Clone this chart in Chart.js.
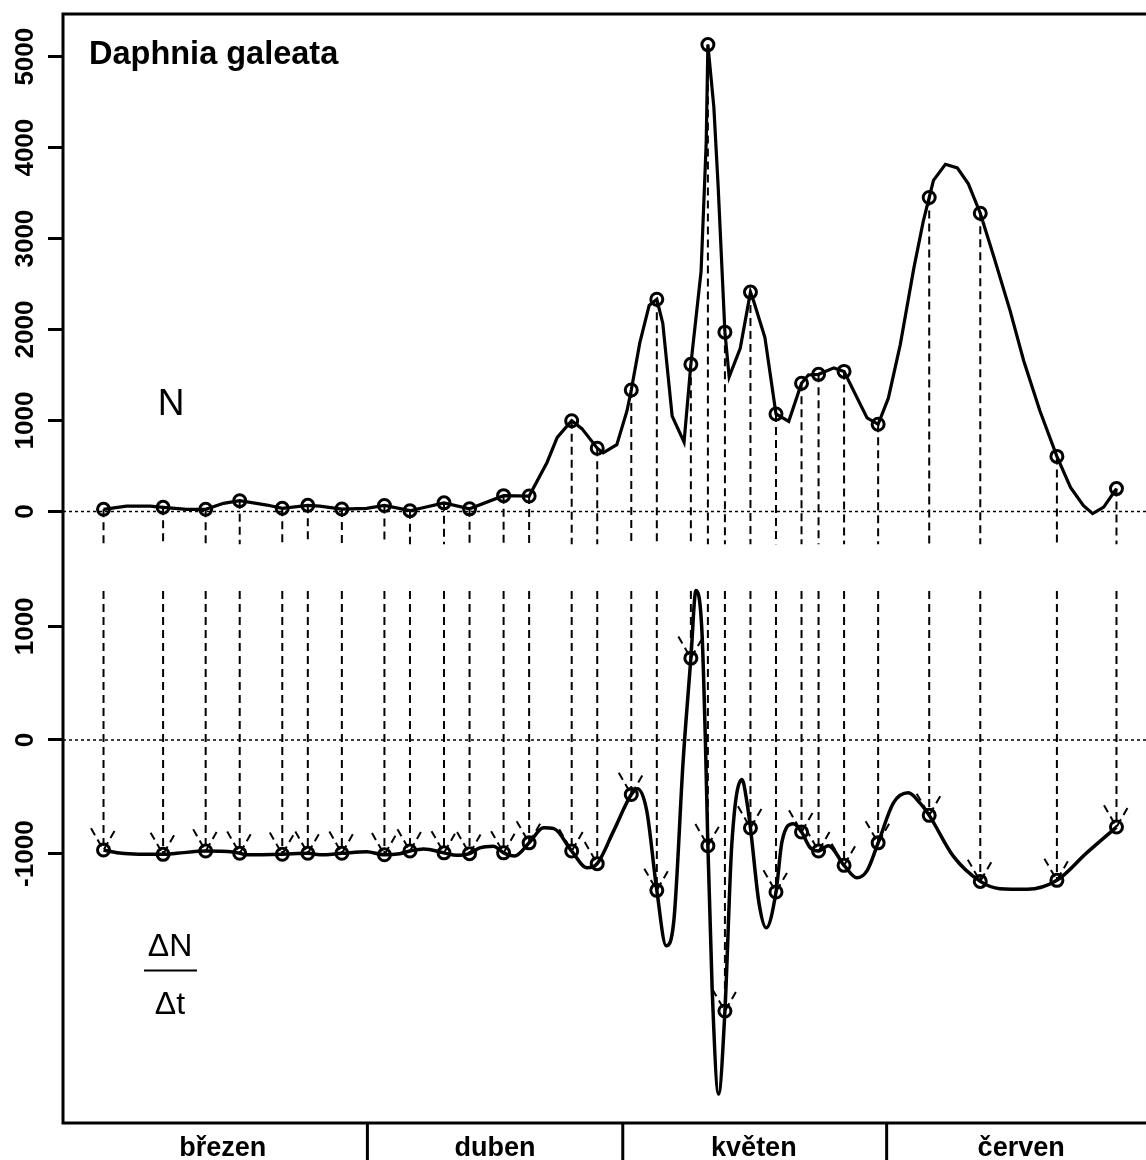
<!DOCTYPE html>
<html>
<head>
<meta charset="utf-8">
<script src="https://cdn.jsdelivr.net/npm/chart.js@4.4.1/dist/chart.umd.min.js"></script>
<style>
  html, body { margin: 0; padding: 0; background: #fff; overflow: hidden; }
  #wrap { width: 1166px; height: 1160px; }
</style>
</head>
<body>
<div id="wrap"><canvas id="c" width="1166" height="1160"></canvas></div>
<script>
// Sampling days, counted from 1 March (day 0)
const sampleDays = [0, 7, 12, 16, 21, 24, 28, 33, 36, 40, 43, 47, 50, 55, 58,
                    62, 65, 69, 71, 73, 76, 79, 82, 84, 87, 91, 97, 103, 112, 119];

// Abundance N at each sampling day
const abundance = [24, 46, 24, 119, 35, 68, 27, 66, 9, 95, 29, 174, 170, 998, 696,
                   1336, 2333, 1618, 5133, 1972, 2412, 1072, 1410, 1508, 1540, 959, 3452, 3279, 606, 252];

// Rate of change ΔN/Δt at each sampling day
const growthRate = [-968, -1006, -977, -997, -1005, -997, -997, -1010, -977, -993, -1000, -993, -905, -977, -1088,
                    -480, -1323, 720, -930, -2385, -774, -1337, -810, -977, -1103, -905, -663, -1244, -1235, -766];

// Interpolated abundance curve (straight segments)
const abundanceCurveDays = [0, 2.7, 5.5, 7, 9.8, 12, 14.1, 16, 19.2, 21, 24, 25.4, 28, 30.9, 33, 36, 40, 43, 47, 50,
  52.1, 53.3, 55, 56.2, 58, 58.7, 60.3, 61.5, 62, 63, 64.1, 65, 65.7, 66.8, 68.2, 69, 70.2, 70.8, 71, 71.7, 72.2,
  73, 73.5, 74.8, 76, 76.4, 77.7, 79, 80.5, 82, 82.8, 84, 85.8, 87, 89.7, 91, 92.2, 93.6, 95.2, 96.3, 97, 97.5,
  98.9, 100.3, 101.6, 103, 104.6, 106.5, 108.1, 110, 112, 113.6, 115.1, 116.2, 117.5, 119];
const abundanceCurve = [24, 60, 60, 46, 24, 24, 90, 119, 71, 35, 68, 60, 27, 35, 66, 9, 95, 29, 174, 170,
  539, 814, 998, 911, 696, 644, 735, 1108, 1336, 1854, 2266, 2333, 2070, 1049, 763, 1618, 2640, 4052, 5133, 4446, 3582,
  1972, 1481, 1795, 2412, 2305, 1913, 1072, 991, 1410, 1501, 1508, 1579, 1540, 1029, 959, 1246, 1835, 2678, 3189, 3452, 3640,
  3817, 3778, 3602, 3279, 2797, 2208, 1658, 1108, 606, 264, 67, -23, 48, 252];

// Smoothed rate curve
const rateCurveDays = [0, 1.6, 3.5, 7, 8.6, 12, 15.2, 16, 16.8, 21, 24, 25.4, 28, 30.9, 33, 34.8, 36, 37.6, 40, 41.5,
  43, 44.2, 45.8, 47, 48.3, 50, 51.7, 52.9, 55, 56.8, 58, 59.9, 62, 62.7, 63.8, 65, 66.1, 67, 68.1, 69, 69.6, 70.3,
  70.7, 71, 71.5, 72.25, 73, 73.8, 75, 75.6, 76, 77, 77.85, 79, 79.7, 81.05, 82, 83, 84, 85.15, 87, 88.5, 89.7, 91,
  92.8, 94.55, 95.9, 97, 99.85, 103, 105.3, 108.5, 112, 115.5, 119];
const rateCurve = [-968, -992, -1003, -1006, -997, -977, -985, -997, -1010, -1005, -997, -1010, -997, -983, -1010, -1000, -977, -959, -993, -1015,
  -1000, -950, -935, -993, -1020, -905, -773, -780, -977, -1125, -1088, -804, -480, -428, -616, -1323, -1810, -1590, -176, 720, 1316, 956,
  12, -930, -2187, -3115, -2385, -930, -348, -553, -774, -1433, -1653, -1337, -897, -736, -810, -946, -977, -930, -1103, -1213, -1150, -905,
  -553, -465, -553, -663, -1024, -1244, -1308, -1314, -1235, -993, -766];

// Axis ticks
const abundanceTicks = [0, 1000, 2000, 3000, 4000, 5000];
const rateTicks = [-1000, 0, 1000];

// Months along the time axis
const monthNames = ['březen', 'duben', 'květen', 'červen'];
const monthStarts = [31, 61, 92];
const monthLabelDays = [14.0, 46.0, 76.4, 107.8];

// Axis ranges
const dayRange = [-4.76, 123.76];
const abundanceRange = [-632.1, 5469.4];
const rateRange = [-3370, 1504.6];

// Ends of the dashed connectors
const dropEnd = -360;    // lower end of drop lines, N units
const arrowTop = 1310;   // upper end of arrows, ΔN/Δt units

const FONT = '"Liberation Sans", Arial, Helvetica, sans-serif';

const xy = (xs, ys) => xs.map((x, i) => ({ x, y: ys[i] }));

const dropLines = [];
sampleDays.forEach((d, i) => {
  dropLines.push({ x: d, y: abundance[i] }, { x: d, y: dropEnd }, { x: d, y: null });
});
const arrowShafts = [];
sampleDays.forEach((d, i) => {
  arrowShafts.push({ x: d, y: arrowTop }, { x: d, y: growthRate[i] }, { x: d, y: null });
});

const lineBase = { pointRadius: 0, borderColor: '#000', fill: false, spanGaps: false };
const markerBase = { showLine: false, pointRadius: 6, pointBorderWidth: 3,
  pointBorderColor: '#000', pointBackgroundColor: 'rgba(0,0,0,0)', order: 1 };

const decor = {
  id: 'decor',
  afterDatasetsDraw(chart) {
    // arrow heads on the ΔN/Δt connectors
    const ctx = chart.ctx, xs = chart.scales.x, ys = chart.scales.yD;
    ctx.save();
    ctx.strokeStyle = '#000';
    ctx.lineWidth = 2;
    ctx.setLineDash([8, 5]);
    sampleDays.forEach((d, i) => {
      const px = xs.getPixelForValue(d), py = ys.getPixelForValue(growthRate[i]);
      ctx.beginPath();
      ctx.moveTo(px - 12.5, py - 21.7);
      ctx.lineTo(px, py);
      ctx.lineTo(px + 12.5, py - 21.7);
      ctx.stroke();
    });
    ctx.restore();
  },
  afterDraw(chart) {
    const ctx = chart.ctx, a = chart.chartArea, xs = chart.scales.x;
    ctx.save();
    ctx.strokeStyle = '#000';
    ctx.fillStyle = '#000';
    ctx.setLineDash([]);
    // plot frame
    ctx.lineWidth = 3;
    ctx.strokeRect(a.left, a.top, a.right - a.left, a.bottom - a.top);
    // month separators
    monthStarts.forEach(d => {
      const px = xs.getPixelForValue(d);
      ctx.beginPath();
      ctx.moveTo(px, a.bottom);
      ctx.lineTo(px, chart.height);
      ctx.stroke();
    });
    // month names
    ctx.font = 'bold 27px ' + FONT;
    ctx.textAlign = 'center';
    ctx.textBaseline = 'alphabetic';
    monthNames.forEach((m, i) => ctx.fillText(m, xs.getPixelForValue(monthLabelDays[i]), 1156));
    // species name
    ctx.textAlign = 'left';
    ctx.font = 'bold 32.5px ' + FONT;
    ctx.fillText('Daphnia galeata', 89, 64);
    // panel captions
    ctx.textAlign = 'center';
    ctx.font = '37px ' + FONT;
    ctx.fillText('N', 171, 415);
    ctx.font = '32px ' + FONT;
    ctx.fillText('ΔN', 170, 956);
    ctx.fillText('Δt', 170, 1014);
    ctx.lineWidth = 2;
    ctx.beginPath();
    ctx.moveTo(144, 970.5);
    ctx.lineTo(197, 970.5);
    ctx.stroke();
    ctx.restore();
  }
};

const tickFont = { family: FONT, size: 26, weight: 'bold' };
const tickBase = { font: tickFont, color: '#000', minRotation: 90, maxRotation: 90, crossAlign: 'center',
  autoSkip: false, callback: v => String(v) };
const gridBase = { drawOnChartArea: false, drawTicks: true, tickLength: 15, tickWidth: 3, lineWidth: 3, tickColor: '#000' };

new Chart(document.getElementById('c'), {
  type: 'line',
  data: {
    datasets: [
      { ...lineBase, label: 'N = 0', yAxisID: 'yN', data: xy(dayRange, [0, 0]), borderWidth: 1.5, borderDash: [3, 3], order: 9 },
      { ...lineBase, label: 'ΔN/Δt = 0', yAxisID: 'yD', data: xy(dayRange, [0, 0]), borderWidth: 1.5, borderDash: [3, 3], order: 9 },
      { ...lineBase, label: 'drops', yAxisID: 'yN', data: dropLines, borderWidth: 2, borderDash: [8, 5], order: 8 },
      { ...lineBase, label: 'arrows', yAxisID: 'yD', data: arrowShafts, borderWidth: 2, borderDash: [8, 5], order: 8 },
      { ...lineBase, label: 'N curve', yAxisID: 'yN', data: xy(abundanceCurveDays, abundanceCurve), borderWidth: 3.2, tension: 0, order: 5 },
      { ...lineBase, label: 'ΔN/Δt curve', yAxisID: 'yD', data: xy(rateCurveDays, rateCurve), borderWidth: 3.5, cubicInterpolationMode: 'monotone', order: 5 },
      { ...markerBase, label: 'N', yAxisID: 'yN', data: xy(sampleDays, abundance) },
      { ...markerBase, label: 'ΔN/Δt', yAxisID: 'yD', data: xy(sampleDays, growthRate) }
    ]
  },
  options: {
    responsive: false,
    animation: false,
    devicePixelRatio: 1,
    layout: { padding: { left: 0, top: 14, right: 3, bottom: 37 } },
    plugins: { legend: { display: false }, tooltip: { enabled: false } },
    scales: {
      x: { type: 'linear', min: dayRange[0], max: dayRange[1], display: false },
      yN: {
        type: 'linear', position: 'left', stack: 'panels', stackWeight: 555, weight: 2,
        min: abundanceRange[0], max: abundanceRange[1],
        afterFit: s => { s.width = 63; },
        afterBuildTicks: s => { s.ticks = abundanceTicks.map(v => ({ value: v })); },
        ticks: { ...tickBase, padding: -7 },
        grid: gridBase,
        border: { display: false }
      },
      yD: {
        type: 'linear', position: 'left', stack: 'panels', stackWeight: 554, weight: 1,
        min: rateRange[0], max: rateRange[1],
        afterFit: s => { s.width = 63; },
        afterBuildTicks: s => { s.ticks = rateTicks.map(v => ({ value: v })); },
        ticks: { ...tickBase, padding: -11 },
        grid: gridBase,
        border: { display: false }
      }
    }
  },
  plugins: [decor]
});
</script>
</body>
</html>
